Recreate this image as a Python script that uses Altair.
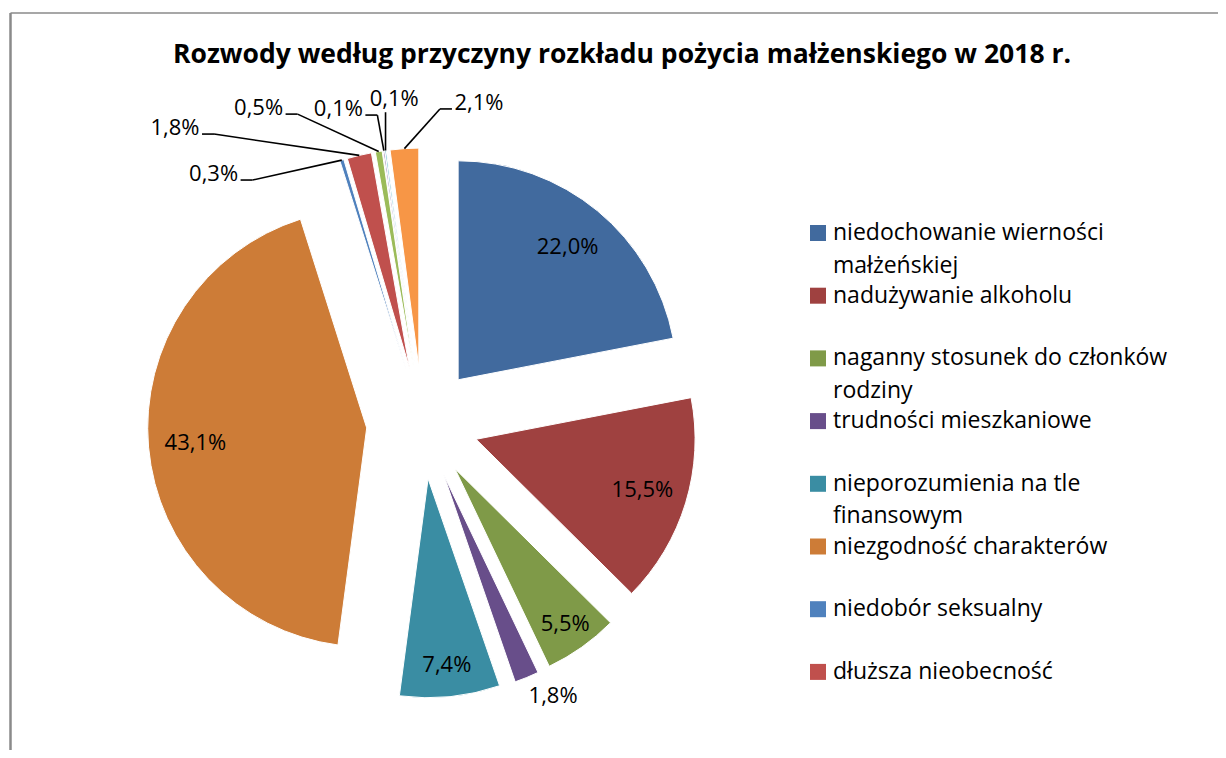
import textwrap
import altair as alt
import pandas as pd

# ---------------- data ----------------
TITLE = "Rozwody według przyczyny rozkładu pożycia małżenskiego w 2018 r."

categories = [
    "niedochowanie wierności małżeńskiej",
    "nadużywanie alkoholu",
    "naganny stosunek do członków rodziny",
    "trudności mieszkaniowe",
    "nieporozumienia na tle finansowym",
    "niezgodność charakterów",
    "niedobór seksualny",
    "dłuższa nieobecność",
    "różnice światopoglądowe",
    "różnice wyznaniowe",
    "choroba",
    "inne przyczyny",
]
values = [22.0, 15.5, 5.5, 1.8, 7.4, 43.1, 0.3, 1.8, 0.5, 0.1, 0.1, 2.1]
colors = [
    "#416A9E", "#9F4140", "#7F9A48", "#684E8A", "#3A8DA3", "#CD7C37",
    "#4F81BD", "#C0504D", "#9BBB59", "#8064A2", "#4BACC6", "#F79646",
]
legend_count = 8  # Excel legend shows only the first 8 entries

# ---------------- layout / style ----------------
FONT = "Open Sans"
CX, CY = 414.5, 415.0     # pie centre (plot coords)
R = 219.0                 # radius
EXPL = 56.0               # explosion distance
HW = 25.0                 # half width of a small label
LAB_FS = 22
LEG_FS = 23

df = pd.DataFrame({
    "idx": list(range(len(values))),
    "cat": categories,
    "value": values,
    "color": colors,
})

base = alt.Chart(df).transform_window(
    cum="sum(value)", sort=[alt.SortField("idx")], frame=[None, 0]
).transform_joinaggregate(
    total="sum(value)"
).transform_calculate(
    t0="(datum.cum - datum.value) / datum.total * 2 * PI",
    t1="datum.cum / datum.total * 2 * PI",
).transform_calculate(
    mid="(datum.t0 + datum.t1) / 2",
    half="(datum.t1 - datum.t0) / 2",
    kind="datum.idx >= 6 ? 'leader' : (datum.value >= 5 ? 'in' : 'out')",
    k="datum.idx - 6",
    txt="replace(format(datum.value, '.1f'), '.', ',') + '%'",
).transform_calculate(
    ex=f"{CX} + {EXPL} * sin(datum.mid)",
    ey=f"{CY} - {EXPL} * cos(datum.mid)",
    la="(320 + max(0, datum.k - 1) * 12.5 - (datum.k == 4 ? 2.5 : 0)) * PI / 180",
    lr="325 + (datum.k == 1 ? 60 : 0) + (datum.k == 2 ? 30 : 0)",
    rl="200 - 56 * min(sin(datum.half), 0.5)",
).transform_calculate(
    sx=f"datum.ex + {R} * sin(datum.mid)",
    sy=f"datum.ey - {R} * cos(datum.mid)",
    lx=(
        "datum.kind == 'in' ? datum.ex + datum.rl * sin(datum.mid) : "
        f"datum.kind == 'out' ? datum.ex + {R + 28} * sin(datum.mid - 0.07) : "
        f"{CX} + datum.lr * sin(datum.la)"
    ),
    ly=(
        "datum.kind == 'in' ? datum.ey - datum.rl * cos(datum.mid) : "
        f"datum.kind == 'out' ? datum.ey - {R + 28} * cos(datum.mid - 0.07) : "
        f"{CY} - datum.lr * cos(datum.la)"
    ),
).transform_calculate(
    side=f"datum.sx > datum.lx + {HW} ? 1 : (datum.sx < datum.lx - {HW} ? -1 : 0)",
).transform_calculate(
    p0x=f"datum.side == 0 ? datum.sx : datum.lx + datum.side * {HW + 2}",
    p0y="datum.side == 0 ? datum.ly + 13 : datum.ly + 6",
).transform_calculate(
    p1x="datum.p0x + datum.side * 12",
    p1y="datum.p0y",
)

pie = base.mark_arc(radius=R, stroke="white", strokeWidth=1).encode(
    theta=alt.Theta("t0:Q", scale=None, stack=False),
    theta2=alt.Theta2("t1:Q"),
    x=alt.X("ex:Q", scale=None, axis=None),
    y=alt.Y("ey:Q", scale=None, axis=None),
    color=alt.Color("color:N", scale=None),
)

labels = base.mark_text(
    font=FONT, fontSize=LAB_FS, color="black", align="center", baseline="middle"
).encode(
    x=alt.X("lx:Q", scale=None),
    y=alt.Y("ly:Q", scale=None),
    text="txt:N",
)

leader1 = base.transform_filter("datum.kind == 'leader'").mark_rule(
    color="black", strokeWidth=1.6
).encode(
    x=alt.X("p0x:Q", scale=None), y=alt.Y("p0y:Q", scale=None),
    x2="p1x:Q", y2="p1y:Q",
)
leader2 = base.transform_filter("datum.kind == 'leader'").mark_rule(
    color="black", strokeWidth=1.6
).encode(
    x=alt.X("p1x:Q", scale=None), y=alt.Y("p1y:Q", scale=None),
    x2="sx:Q", y2="sy:Q",
)

# ---------------- legend (first 8 entries, wrapped like Excel) ----------------
leg_rows = []
leg_lines = []
for i in range(legend_count):
    leg_rows.append({"i": i, "color": colors[i]})
    for j, line in enumerate(textwrap.wrap(categories[i], width=28)):
        leg_lines.append({"i": i, "j": j, "line": line})
leg_rows = pd.DataFrame(leg_rows)
leg_lines = pd.DataFrame(leg_lines)

LEG_X, LEG_Y, LEG_STEP, LEG_LH = 810.0, 225.0, 62.7, 32.5

leg_sym = alt.Chart(leg_rows).transform_calculate(
    ly=f"{LEG_Y} + datum.i * {LEG_STEP}"
).mark_square(size=256, opacity=1, strokeWidth=0).encode(
    x=alt.value(LEG_X),
    y=alt.Y("ly:Q", scale=None),
    color=alt.Color("color:N", scale=None),
)
leg_txt = alt.Chart(leg_lines).transform_calculate(
    ly=f"{LEG_Y} + datum.i * {LEG_STEP} + datum.j * {LEG_LH}"
).mark_text(
    font=FONT, fontSize=LEG_FS, color="black", align="left", baseline="middle"
).encode(
    x=alt.value(LEG_X + 15),
    y=alt.Y("ly:Q", scale=None),
    text="line:N",
)

title = alt.Chart(pd.DataFrame({"t": [TITLE]})).mark_text(
    font=FONT, fontSize=26.5, fontWeight="bold", color="black",
    align="center", baseline="middle",
).encode(x=alt.value(614), y=alt.value(47), text="t:N")

frame_top = alt.Chart(pd.DataFrame({"a": [0]})).mark_rule(
    color="#8a8a8a", strokeWidth=1.5
).encode(x=alt.value(2.5), x2=alt.value(1210), y=alt.value(5))
frame_left = alt.Chart(pd.DataFrame({"a": [0]})).mark_rule(
    color="#8a8a8a", strokeWidth=2.5
).encode(x=alt.value(2.5), y=alt.value(5), y2=alt.value(742))

chart = alt.layer(
    frame_top, frame_left, pie, leader1, leader2, labels, leg_sym, leg_txt, title
).properties(
    width=1210, height=742,
    autosize=alt.AutoSizeParams(type="none"),
    padding=0,
    background="white",
).configure_view(strokeWidth=0)

chart.save("out.html", embed_options={"renderer": "svg", "actions": False})
